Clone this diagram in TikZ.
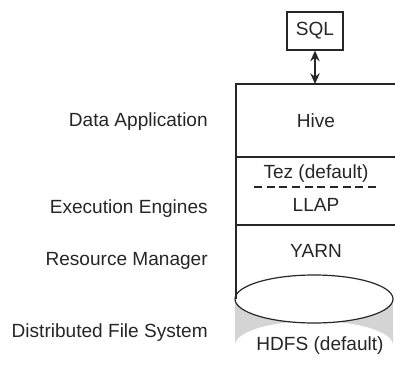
\documentclass[tikz,border=0pt]{standalone}
\usepackage{fontspec}
\setmainfont{Liberation Sans}
\usetikzlibrary{arrows.meta}
\begin{document}
\begin{tikzpicture}[x=0.75pt,y=-0.75pt,
  txt/.style={font=\fontsize{14.3pt}{17pt}\selectfont, text=black!85, inner sep=0pt},
  lbl/.style={txt, anchor=east},
  line/.style={draw=black!85, line width=0.9pt},
  sqlbox/.style={txt, draw=black!85, line width=0.9pt, minimum width=42pt, minimum height=28.5pt}]
\useasboundingbox (0,0) rectangle (395,370);
% cylinder (HDFS)
\fill[black!17] (235,299) -- (235,345) arc[start angle=180, end angle=360, x radius=79, y radius=24] -- (393,299) -- cycle;
\draw[line, fill=white] (314,299) ellipse[x radius=79, y radius=24];
% stack box
\draw[line] (395,84) -- (236,84) -- (236,299);
\draw[line] (236,157) -- (395,157);
\draw[line] (236,225) -- (395,225);
\draw[draw=black!85, line width=0.8pt, dash pattern=on 6pt off 3.5pt, dash phase=-1.5pt] (252,187) -- (376,187);
% texts
\node[sqlbox] (sql) at (315,31) {SQL};
\coordinate (top) at (315,84);
\node[txt] (hive) at (316,121) {Hive};
\node[txt] (tez) at (316,174) {Tez (default)};
\node[txt] (llap) at (316,205) {LLAP};
\node[txt] (yarn) at (316,251) {YARN};
\node[txt] (hdfs) at (320,346) {HDFS (default)};
\draw[line, line width=1.2pt, {Stealth[length=8pt,width=7pt]}-{Stealth[length=8pt,width=7pt]}] (sql.south) -- (top);
% left labels
\node[lbl] (app) at (208,122) {Data Application};
\node[lbl] (exe) at (208,209) {Execution Engines};
\node[lbl] (res) at (208,261) {Resource Manager};
\node[lbl] (dfs) at (208,333) {Distributed File System};
\end{tikzpicture}
\end{document}
